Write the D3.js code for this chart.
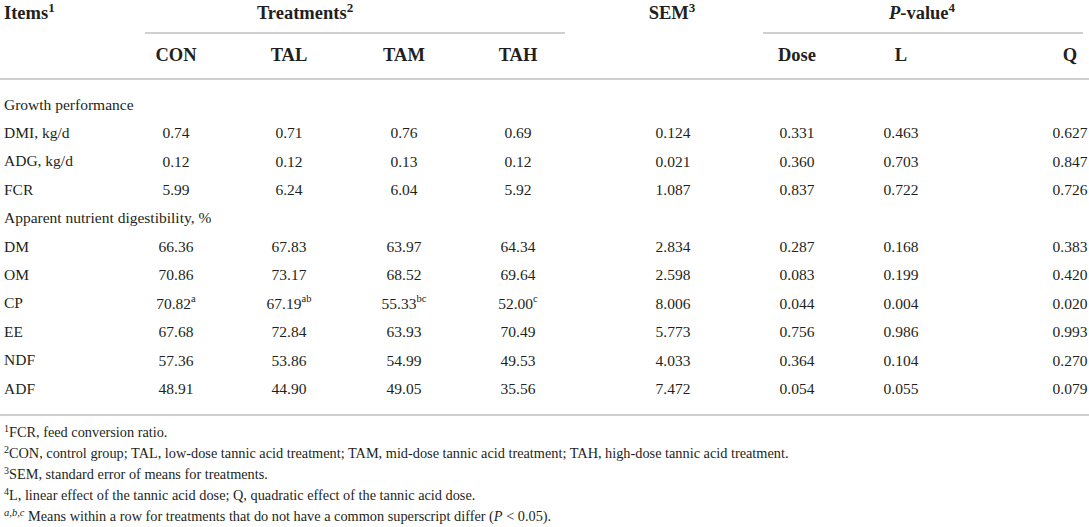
<!DOCTYPE html>
<html><head><meta charset="utf-8">
<script src="https://cdn.jsdelivr.net/npm/d3@7"></script>
<style>
html,body{margin:0;padding:0;background:#fff;}
svg text{font-family:"Liberation Serif","Times New Roman",serif;fill:#231f20;}
</style></head>
<body><svg id="t" width="1089" height="527"></svg>
<script>
// ---- data ----
const treatments = ["CON","TAL","TAM","TAH"];
const pCols = ["Dose","L","Q"];
const rowLabels = ["Growth performance","DMI, kg/d","ADG, kg/d","FCR","Apparent nutrient digestibility, %","DM","OM","CP","EE","NDF","ADF"];
const CON = [null,"0.74","0.12","5.99",null,"66.36","70.86","70.82","67.68","57.36","48.91"];
const TAL = [null,"0.71","0.12","6.24",null,"67.83","73.17","67.19","72.84","53.86","44.90"];
const TAM = [null,"0.76","0.13","6.04",null,"63.97","68.52","55.33","63.93","54.99","49.05"];
const TAH = [null,"0.69","0.12","5.92",null,"64.34","69.64","52.00","70.49","49.53","35.56"];
const supCON = ["","","","","","","","a","","",""];
const supTAL = ["","","","","","","","ab","","",""];
const supTAM = ["","","","","","","","bc","","",""];
const supTAH = ["","","","","","","","c","","",""];
const SEM = [null,"0.124","0.021","1.087",null,"2.834","2.598","8.006","5.773","4.033","7.472"];
const Dose = [null,"0.331","0.360","0.837",null,"0.287","0.083","0.044","0.756","0.364","0.054"];
const L = [null,"0.463","0.703","0.722",null,"0.168","0.199","0.004","0.986","0.104","0.055"];
const Q = [null,"0.627","0.847","0.726",null,"0.383","0.420","0.020","0.993","0.270","0.079"];
const footnotes = [
  ["1","FCR, feed conversion ratio."],
  ["2","CON, control group; TAL, low-dose tannic acid treatment; TAM, mid-dose tannic acid treatment; TAH, high-dose tannic acid treatment."],
  ["3","SEM, standard error of means for treatments."],
  ["4","L, linear effect of the tannic acid dose; Q, quadratic effect of the tannic acid dose."]
];

const columns = {CON:[CON,supCON],TAL:[TAL,supTAL],TAM:[TAM,supTAM],TAH:[TAH,supTAH],SEM:[SEM,null],Dose:[Dose,null],L:[L,null],Q:[Q,null]};
const colKeys = Object.keys(columns);

// ---- scales ----
const x = d3.scaleOrdinal().domain(colKeys).range([176,289,404,518,673,797,901,1070]);
const y = d3.scalePoint().domain(d3.range(rowLabels.length)).range([104,388]);
const fy = d3.scalePoint().domain(d3.range(footnotes.length+1)).range([432,516]);

const svg = d3.select("#t");
const lineColor = "#d0d0d0";

// header
const hdr = svg.append("g").attr("font-weight","bold").attr("font-size",18.5);
function headText(tx, ty, anchor, parts){
  const t = hdr.append("text").attr("x",tx).attr("y",ty).attr("text-anchor",anchor).attr("dominant-baseline","central");
  parts.forEach(p=>{
    const s = t.append("tspan").text(p.t);
    if(p.sup) s.attr("font-size",13).attr("dy",-6);
    if(p.it) s.attr("font-style","italic");
  });
  return t;
}
headText(4,13,"start",[{t:"Items"},{t:"1",sup:1}]);
headText(305,13,"middle",[{t:"Treatments"},{t:"2",sup:1}]);
headText(672,13,"middle",[{t:"SEM"},{t:"3",sup:1}]);
headText(922,13,"middle",[{t:"P",it:1},{t:"-value"},{t:"4",sup:1}]);
treatments.concat(pCols).forEach(k=>{
  hdr.append("text").attr("x",x(k)).attr("y",55).attr("text-anchor","middle").attr("dominant-baseline","central").text(k);
});

// rules
const rules = [[145,565,33],[763,1083,33],[0,1089,79],[0,1089,415]];
svg.append("g").selectAll("line").data(rules).join("line")
  .attr("x1",d=>d[0]).attr("x2",d=>d[1]).attr("y1",d=>d[2]).attr("y2",d=>d[2])
  .attr("stroke",lineColor).attr("stroke-width",2);

// body
const body = svg.append("g").attr("font-size",15.5);
body.selectAll("text.lbl").data(rowLabels).join("text").attr("class","lbl")
  .attr("x",4).attr("y",(d,i)=>y(i)).attr("dominant-baseline","central").text(d=>d);

colKeys.forEach(k=>{
  const [vals,sups] = columns[k];
  vals.forEach((v,i)=>{
    if(v==null) return;
    const t = body.append("text").attr("x",x(k)).attr("y",y(i)).attr("text-anchor","middle").attr("dominant-baseline","central");
    t.append("tspan").text(v);
    if(sups && sups[i]) t.append("tspan").attr("font-size",10.5).attr("dy",-5).text(sups[i]);
  });
});

// footnotes
const fn = svg.append("g").attr("font-size",14.3);
footnotes.forEach((f,i)=>{
  const t = fn.append("text").attr("x",4).attr("y",fy(i)).attr("dominant-baseline","central");
  t.append("tspan").attr("font-size",10).attr("dy",-4).text(f[0]);
  t.append("tspan").attr("dy",4).text(f[1]);
});
{
  const t = fn.append("text").attr("x",4).attr("y",fy(footnotes.length)).attr("dominant-baseline","central");
  t.append("tspan").attr("font-size",10.5).attr("dy",-4).attr("font-style","italic").text("a,b,c");
  t.append("tspan").attr("dy",4).text(" Means within a row for treatments that do not have a common superscript differ (");
  t.append("tspan").attr("font-style","italic").text("P");
  t.append("tspan").text(" < 0.05).");
}
</script></body></html>
